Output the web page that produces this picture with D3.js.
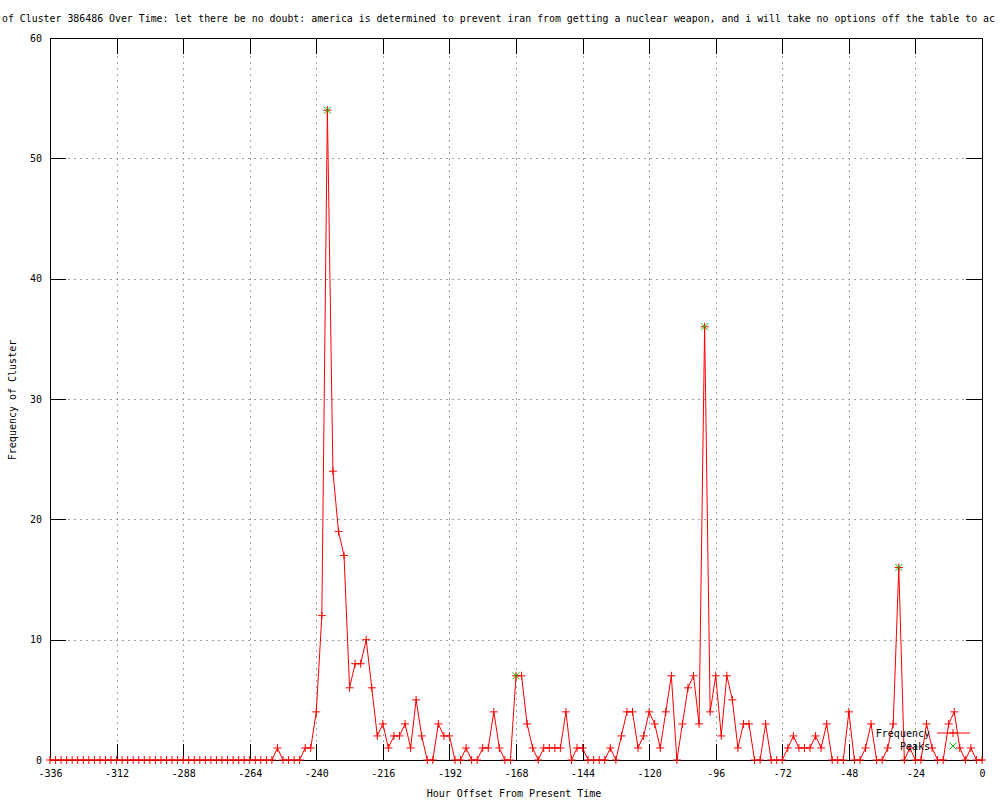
<!DOCTYPE html>
<html>
<head>
<meta charset="utf-8">
<script src="https://cdn.jsdelivr.net/npm/d3@7"></script>
<style>
  html, body { margin: 0; padding: 0; background: #fff; }
  svg { display: block; }
  text { font-family: "DejaVu Sans Mono", "Liberation Mono", monospace; font-size: 10px; fill: #000; }
</style>
</head>
<body>
<svg id="chart" width="1000" height="800"></svg>
<script>
// ---- data ----
const titleText = "of Cluster 386486 Over Time: let there be no doubt: america is determined to prevent iran from getting a nuclear weapon, and i will take no options off the table to ac";
const xLabel = "Hour Offset From Present Time";
const yLabel = "Frequency of Cluster";
const hours = d3.range(-336, 1, 2);
const frequency = [
  0,0,0,0,0,0,0,0,0,0,            // -336 .. -318
  0,0,0,0,0,0,0,0,0,0,            // -316 .. -298
  0,0,0,0,0,0,0,0,0,0,            // -296 .. -278
  0,0,0,0,0,0,0,0,0,0,            // -276 .. -258
  0,1,0,0,0,0,1,1,4,12,           // -256 .. -238
  54,24,19,17,6,8,8,10,6,2,       // -236 .. -218
  3,1,2,2,3,1,5,2,0,0,            // -216 .. -198
  3,2,2,0,0,1,0,0,1,1,            // -196 .. -178
  4,1,0,0,7,7,3,1,0,1,            // -176 .. -158
  1,1,1,4,0,1,1,0,0,0,            // -156 .. -138
  0,1,0,2,4,4,1,2,4,3,            // -136 .. -118
  1,4,7,0,3,6,7,3,36,4,           // -116 .. -98
  7,2,7,5,1,3,3,0,0,3,            // -96 .. -78
  0,0,0,1,2,1,1,1,2,1,            // -76 .. -58
  3,0,0,0,4,0,0,1,3,0,            // -56 .. -38
  0,1,3,16,0,1,0,0,3,1,           // -36 .. -18
  0,0,3,4,1,0,1,0,0               // -16 .. 0
];
const peakHours = [-236, -168, -100, -30];
const peakValues = [54, 7, 36, 16];
const xTicks = [-336, -312, -288, -264, -240, -216, -192, -168, -144, -120, -96, -72, -48, -24, 0];
const yTicks = [0, 10, 20, 30, 40, 50, 60];
const seriesNames = ["Frequency", "Peaks"];

// ---- layout ----
const svg = d3.select("#chart");
const L = 50, R = 982, T = 38, B = 760;
const x = d3.scaleLinear().domain([-336, 0]).range([L, R]);
const y = d3.scaleLinear().domain([0, 60]).range([B, T]);
const RED = "#ff0000", GREEN = "#00c000", GRID = "#a0a0a0";

// title
svg.append("text").attr("x", 2).attr("y", 22).attr("font-size", 9.8)
  .attr("textLength", 993).attr("lengthAdjust", "spacingAndGlyphs").text(titleText);

// grid
const grid = svg.append("g");
grid.selectAll(".gx").data(xTicks.filter(d => d > -336 && d < 0)).enter().append("line")
  .attr("x1", d => Math.round(x(d)) + 0.5).attr("x2", d => Math.round(x(d)) + 0.5)
  .attr("y1", T).attr("y2", B)
  .attr("stroke", GRID).attr("stroke-width", 1).attr("stroke-dasharray", "2,4");
grid.selectAll(".gy").data(yTicks.filter(d => d > 0 && d < 60)).enter().append("line")
  .attr("y1", d => Math.round(y(d)) + 0.5).attr("y2", d => Math.round(y(d)) + 0.5)
  .attr("x1", L).attr("x2", R)
  .attr("stroke", GRID).attr("stroke-width", 1).attr("stroke-dasharray", "2,4");

// axes via d3 axis (ticks drawn inward)
const tickLen = 16;
const axB = svg.append("g").attr("transform", `translate(0,${B})`)
  .call(d3.axisBottom(x).tickValues(xTicks).tickSize(-tickLen).tickPadding(10).tickFormat(d3.format("d")));
const axT = svg.append("g").attr("transform", `translate(0,${T})`)
  .call(d3.axisTop(x).tickValues(xTicks).tickSize(-tickLen).tickFormat(""));
const axL = svg.append("g").attr("transform", `translate(${L},0)`)
  .call(d3.axisLeft(y).tickValues(yTicks).tickSize(-tickLen).tickPadding(8).tickFormat(d3.format("d")));
const axR = svg.append("g").attr("transform", `translate(${R},0)`)
  .call(d3.axisRight(y).tickValues(yTicks).tickSize(-tickLen).tickFormat(""));
[axB, axT, axL, axR].forEach(g => {
  g.select(".domain").remove();
  g.selectAll("line").attr("stroke", "#000").attr("shape-rendering", "crispEdges");
  g.selectAll("text").attr("font-family", "DejaVu Sans Mono").attr("font-size", 10).attr("fill", "#000");
});
axB.selectAll("text").text(d => String(d));

// border
svg.append("rect").attr("x", L + 0.5).attr("y", T + 0.5).attr("width", R - L).attr("height", B - T)
  .attr("fill", "none").attr("stroke", "#000").attr("stroke-width", 1).attr("shape-rendering", "crispEdges");

// labels
svg.append("text").attr("x", 514).attr("y", 797).attr("text-anchor", "middle").text(xLabel);
svg.append("text").attr("transform", "translate(16,400) rotate(-90)").attr("text-anchor", "middle").text(yLabel);

// series
const pts = hours.map((h, i) => [h, frequency[i]]);
const line = d3.line().x(d => x(d[0])).y(d => y(d[1]));
svg.append("path").datum(pts).attr("d", line)
  .attr("fill", "none").attr("stroke", RED).attr("stroke-width", 1);

const plus = (g, cx, cy, s, color) => {
  g.append("line").attr("x1", cx - s).attr("x2", cx + s).attr("y1", cy).attr("y2", cy).attr("stroke", color).attr("stroke-width", 1);
  g.append("line").attr("x1", cx).attr("x2", cx).attr("y1", cy - s).attr("y2", cy + s).attr("stroke", color).attr("stroke-width", 1);
};
const cross = (g, cx, cy, s, color) => {
  g.append("line").attr("x1", cx - s).attr("x2", cx + s).attr("y1", cy - s).attr("y2", cy + s).attr("stroke", color).attr("stroke-width", 1);
  g.append("line").attr("x1", cx - s).attr("x2", cx + s).attr("y1", cy + s).attr("y2", cy - s).attr("stroke", color).attr("stroke-width", 1);
};
const marks = svg.append("g");
pts.forEach(d => plus(marks, x(d[0]), y(d[1]), 4, RED));
const pk = svg.append("g");
peakHours.forEach((h, i) => cross(pk, x(h), y(peakValues[i]), 3.5, GREEN));

// legend
const lg = svg.append("g");
lg.append("text").attr("x", 930).attr("y", 733).attr("dy", "0.35em").attr("text-anchor", "end").text(seriesNames[0]);
lg.append("line").attr("x1", 937).attr("x2", 970).attr("y1", 733).attr("y2", 733).attr("stroke", RED);
plus(lg, 953, 733, 4, RED);
lg.append("text").attr("x", 930).attr("y", 746).attr("dy", "0.35em").attr("text-anchor", "end").text(seriesNames[1]);
cross(lg, 953, 746, 3.5, GREEN);
</script>
</body>
</html>
